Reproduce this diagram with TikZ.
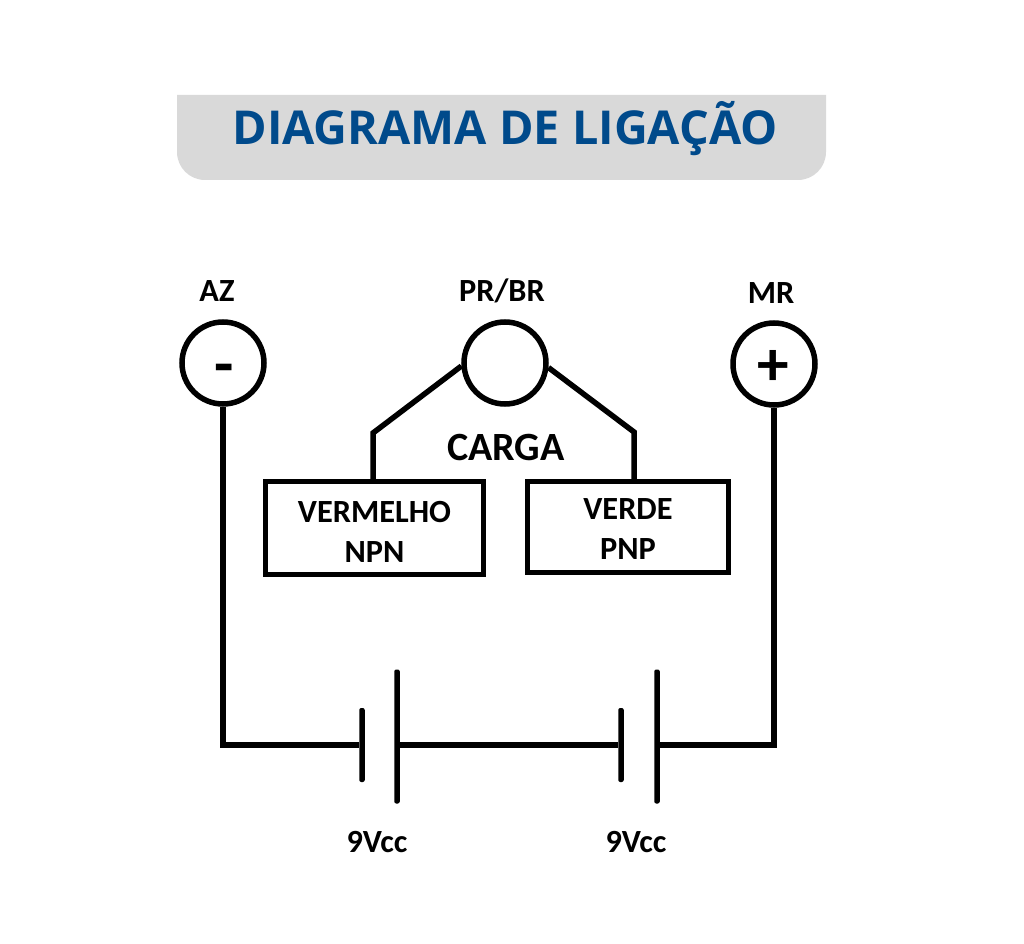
\documentclass[tikz,border=0pt]{standalone}
\usepackage{fontspec}
\setmainfont{Carlito}
\newfontfamily\titlefont{Open Sans}
\definecolor{titleblue}{HTML}{004A8B}
\definecolor{titlegray}{HTML}{D9D9D9}
\tikzset{
	wire/.style={line width=0.055cm},
	term/.style={draw,circle,line width=0.055cm,minimum size=0.82cm,inner sep=0pt},
	sign/.style={inner sep=0pt,font=\fontsize{18}{18}\selectfont\bfseries},
	label/.style={font=\fontsize{9.2}{9.2}\selectfont\bfseries},
	sensor/.style={draw,line width=0.055cm,align=center,inner sep=0pt,font=\fontsize{9.2}{11.3}\selectfont\bfseries},
	plate/.style={fill=black,rounded corners=0.02cm,inner sep=0pt,minimum width=0.055cm}
}
\begin{document}
\begin{tikzpicture}
	\useasboundingbox (0,0) rectangle (10.24,9.43);
	\fill[titlegray] (1.77,8.48) [rounded corners=0.28cm] -- (1.77,7.63) -- (8.26,7.63) [sharp corners] -- (8.26,8.48) -- cycle;
	\node[text=titleblue,font=\titlefont\fontsize{13.3}{13.3}\selectfont\bfseries] (titulo) at (5.05,8.14) {DIAGRAMA DE LIGAÇÃO};
	
	\node[term] (az) at (2.23,5.80) {};
	\node[term] (prbr) at (5.05,5.80) {};
	\node[term] (mr) at (7.74,5.79) {};
	\node[sign] (minus) at (2.24,5.68) {-};
	\node[sign] (plus) at (7.73,5.75) {+};
	\node[label] (azlabel) at (2.17,6.52) {AZ};
	\node[label] (prbrlabel) at (5.02,6.52) {PR/BR};
	\node[label] (mrlabel) at (7.71,6.50) {MR};
	
	\node[label,font=\fontsize{11.4}{11.4}\selectfont\bfseries] (carga) at (5.06,4.96) {CARGA};
	\node[sensor,minimum width=2.18cm,minimum height=0.93cm] (vermelho) at (3.745,4.15) {\rule{0pt}{8.2pt}VERMELHO\\NPN};
	\node[sensor,minimum width=2.01cm,minimum height=0.91cm] (verde) at (6.28,4.16) {\rule{0pt}{7.1pt}VERDE\\PNP};
	\coordinate (kneeleft) at (3.73,5.10);
	\coordinate (kneeright) at (6.34,5.11);
	\draw[wire] (prbr.184) -- (kneeleft) -- (kneeleft |- vermelho.north);
	\draw[wire] (prbr.-6) -- (kneeright) -- (kneeright |- verde.north);
	
	\node[plate,minimum height=0.74cm] (bat1neg) at (3.62,1.98) {};
	\node[plate,minimum height=1.34cm] (bat1pos) at (3.97,2.065) {};
	\node[plate,minimum height=0.74cm] (bat2neg) at (6.21,1.98) {};
	\node[plate,minimum height=1.34cm] (bat2pos) at (6.57,2.065) {};
	\node[label] (bat1label) at (3.77,1.01) {9Vcc};
	\node[label] (bat2label) at (6.36,1.01) {9Vcc};
	\draw[wire] (az.south) |- (bat1neg.west);
	\draw[wire] (bat1pos.east |- bat1neg) -- (bat2neg.west);
	\draw[wire] (bat2pos.east |- bat2neg) -| (mr.south);
\end{tikzpicture}
\end{document}
